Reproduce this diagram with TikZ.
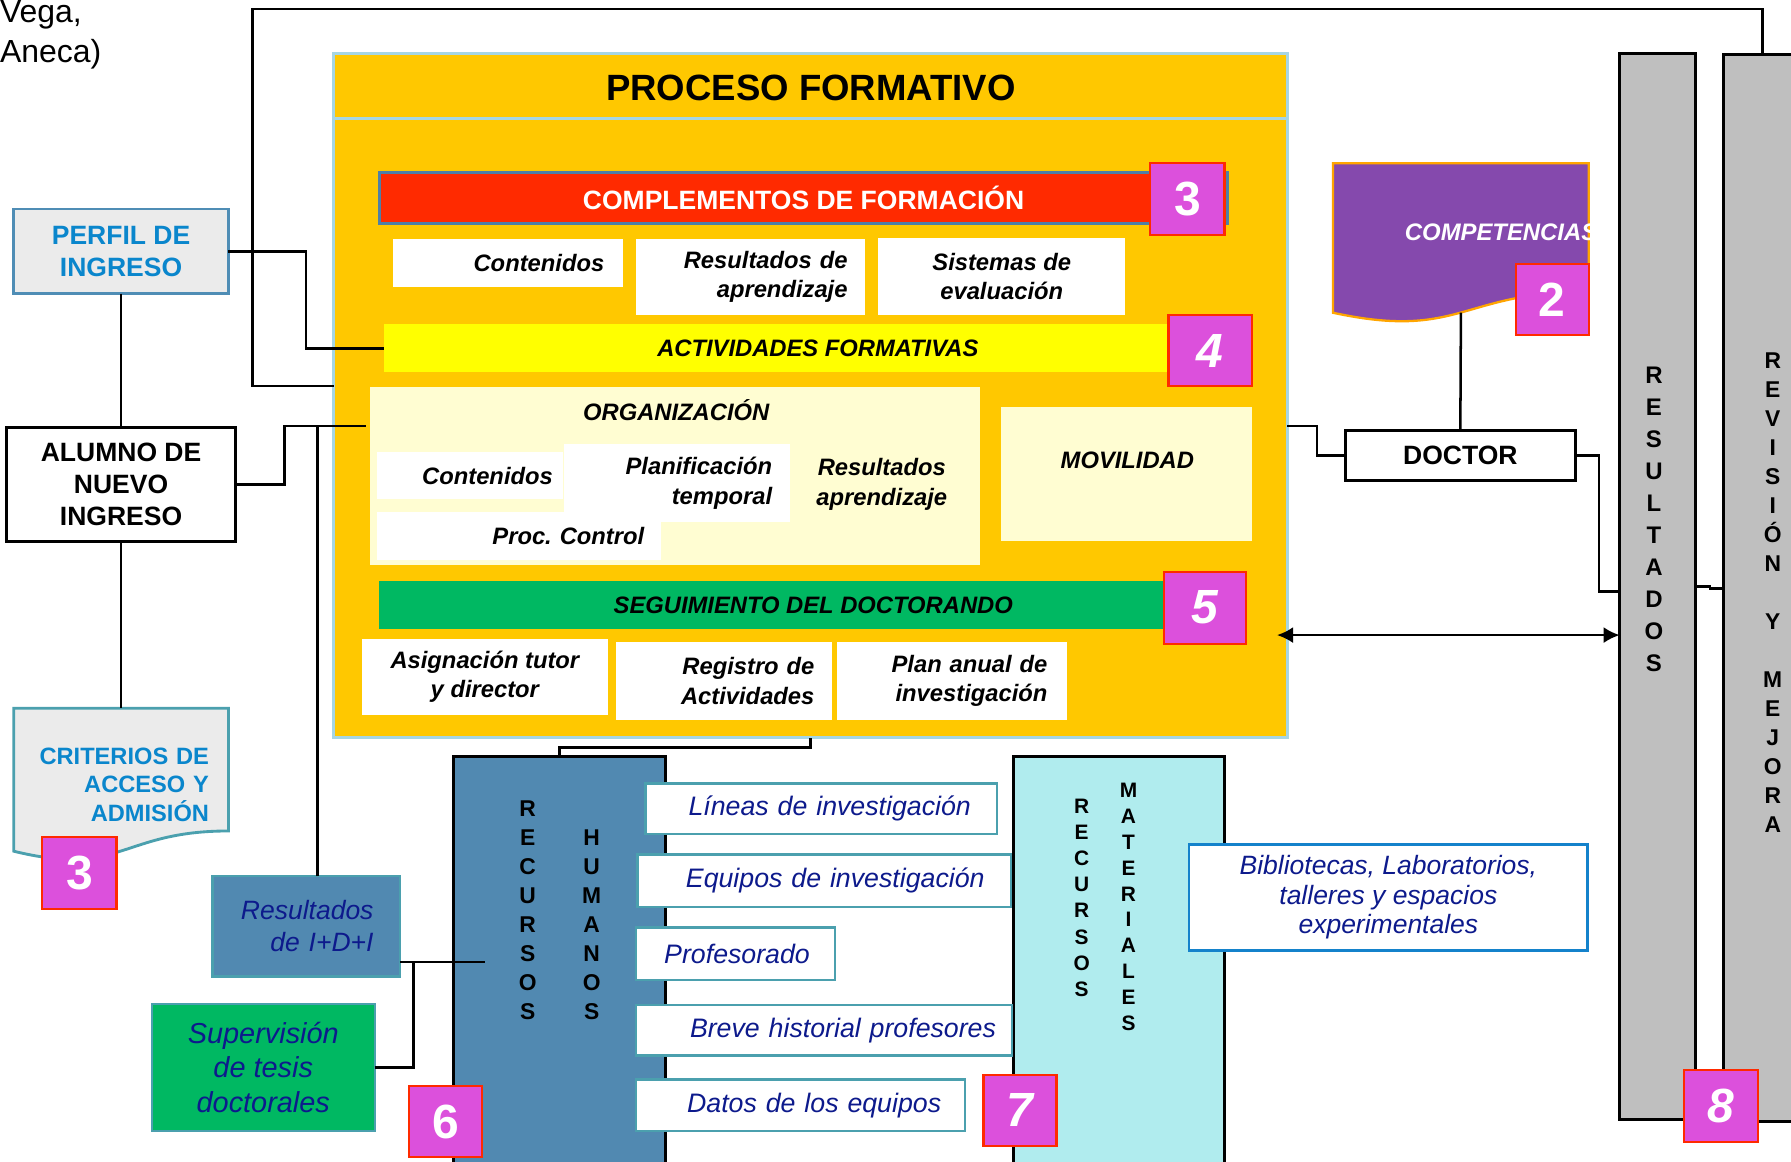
\documentclass[tikz,border=0pt]{standalone}
\usepackage{fontspec}
\setmainfont{Liberation Sans}
\usetikzlibrary{arrows.meta,backgrounds}

\definecolor{oro}{HTML}{FFC800}
\definecolor{celeste}{HTML}{A6D6E4}
\definecolor{rojo}{HTML}{FF2A00}
\definecolor{rosa}{HTML}{DC50DC}
\definecolor{amarillo}{HTML}{FFFF00}
\definecolor{crema}{HTML}{FFFDD2}
\definecolor{verde}{HTML}{00B862}
\definecolor{grisclaro}{HTML}{EBEBEB}
\definecolor{azulperfil}{HTML}{4F8DB5}
\definecolor{azultexto}{HTML}{0A86CC}
\definecolor{verdeazul}{HTML}{4BA0AE}
\definecolor{acero}{HTML}{5189B1}
\definecolor{marino}{HTML}{0D1A8C}
\definecolor{cian}{HTML}{B0ECEE}
\definecolor{azulbib}{HTML}{1482CB}
\definecolor{morado}{HTML}{8549AD}
\definecolor{naranja}{HTML}{FFA500}
\definecolor{gris}{HTML}{BFBFBF}
\definecolor{grisazul}{HTML}{4F7FA6}

\newcommand{\fsz}[2]{\fontsize{#1}{#2}\selectfont}

\tikzset{
  todo/.style={inner sep=0pt, outer sep=0pt},
  tam/.style 2 args={minimum width=#1pt, minimum height=#2pt},
  dcha/.style 2 args={text width=#1pt, inner xsep=#2pt, align=right},
  conn/.style={line width=2.2pt},
  num/.style={todo, fill=rosa, draw=rojo, line width=2pt, text=white, font=\bfseries\fsz{42}{42}},
  numi/.style={num, font=\bfseries\itshape\fsz{42}{42}},
  blanca/.style={todo, fill=white, font=\bfseries\itshape\fsz{20.8}{26}},
  barra/.style={todo, font=\bfseries\itshape\fsz{20.8}{26}},
  rhcaja/.style={todo, fill=white, draw=verdeazul, line width=2pt, text=marino, font=\itshape\fsz{23.4}{28}},
  columna/.style={todo, draw=black, line width=2.5pt},
  letras/.style={todo, align=center, font=\bfseries\fsz{20}{25.4}}
}

\begin{document}
\begin{tikzpicture}[x=1pt,y=-1pt]
  \useasboundingbox (0,0) rectangle (1568,1017);
  \clip (0,0) rectangle (1568,1017);

  % texto suelto
  \node[todo, anchor=north west, align=left, font=\fsz{28}{35}] (vega) at (0,0.5) {Vega,\\Aneca)};

  % proceso formativo
  \node[todo, tam={835}{599}, fill=oro, draw=celeste, line width=2.5pt] (proceso) at (709.5,346.5) {};
  \draw[celeste, line width=2.5pt] ([yshift=-57pt]proceso.north west) -- ([yshift=-57pt]proceso.north east);
  \node[todo, font=\bfseries\fsz{32}{38}] (titulo) at (710,77) {PROCESO FORMATIVO};

  \node[todo, tam={743}{45}, fill=rojo, draw=grisazul, line width=2.5pt, text=white, font=\bfseries\fsz{23.2}{28}] (complementos) at (703.5,173.5) {COMPLEMENTOS DE FORMACIÓN};
  \node[num, tam={65}{63}] (n3a) at (1039.5,174.5) {3};

  \node[blanca, tam={201}{42}, dcha={169}{16}] (contenidos) at (444.5,230) {Contenidos};
  \node[blanca, tam={200}{67}, dcha={170}{15}] (resultados) at (657,242.5) {Resultados de\\aprendizaje};
  \node[blanca, tam={216}{68}, align=center] (sistemas) at (877,242) {Sistemas de\\evaluación};

  \node[barra, tam={760}{42}, fill=amarillo] (actividades) at (716,305) {ACTIVIDADES FORMATIVAS};
  \node[numi, tam={73}{62}] (n4) at (1059.5,307) {4};

  \node[todo, tam={534}{156}, fill=crema] (organizacion) at (591,417) {};
  \node[barra, anchor=base] (orgtit) at (592,368.5) {ORGANIZACIÓN};
  \node[blanca, tam={249}{42}, dcha={219}{15}] (proc) at (454.5,469) {Proc.\ Control};
  \node[blanca, tam={163}{41}, dcha={145}{9}] (contorg) at (411.5,416.5) {Contenidos};
  \node[blanca, tam={198}{68}, dcha={166}{16}] (planif) at (593,423) {Planificación\\temporal};
  \node[barra, align=center] (resorg) at (772,424) {Resultados\\aprendizaje};

  \node[todo, tam={220}{118}, fill=crema] (movilidad) at (986,415) {};
  \node[barra] (movtxt) at (987,403) {MOVILIDAD};

  \node[barra, tam={760}{42}, fill=verde] (seguimiento) at (712,530) {SEGUIMIENTO DEL DOCTORANDO};
  \node[numi, tam={72}{63}] (n5) at (1055,532) {5};

  \node[blanca, tam={215}{67}, align=center] (asignacion) at (424.5,592.5) {Asignación tutor\\y director};
  \node[blanca, tam={189}{68}, dcha={159}{15}] (registro) at (633.5,596) {Registro de\\Actividades};
  \node[blanca, tam={201}{68}, dcha={167}{17}] (plananual) at (833.5,596) {Plan anual de\\investigación};

  % columna izquierda
  \node[todo, tam={188}{74}, fill=grisclaro, draw=azulperfil, line width=2.5pt, text=azultexto, font=\bfseries\fsz{23.2}{28}, align=center] (perfil) at (106,220) {PERFIL DE\\INGRESO};
  \node[todo, tam={200}{100}, fill=white, draw=black, line width=2.5pt, font=\bfseries\fsz{23.2}{28}, align=center] (alumno) at (106,424) {ALUMNO DE\\NUEVO\\INGRESO};
  \node[todo, tam={188}{134}, dcha={154}{17}, text=azultexto, font=\bfseries\fsz{20.7}{25}] (criterios) at (106,687) {CRITERIOS DE\\ACCESO Y\\ADMISIÓN};
  \begin{scope}[on background layer]
    \draw[fill=grisclaro, draw=verdeazul, line width=2.5pt] (criterios.north west) -- (criterios.north east) -- ([yshift=26.5pt]criterios.south east) .. controls ([yshift=26.5pt]criterios.south) and ([yshift=-14.3pt]criterios.south) .. ([yshift=8.8pt]criterios.south west) -- cycle;
  \end{scope}
  \node[num, tam={65}{63}] (n3b) at (69.5,764.5) {3};

  \node[todo, tam={164}{88}, dcha={118}{23}, fill=acero, draw=verdeazul, line width=2pt, text=marino, font=\itshape\fsz{23.2}{28}] (resid) at (268,811) {Resultados\\de I+D+I};
  \node[todo, tam={195}{111}, align=center, fill=verde, draw=verdeazul, line width=2pt, text=marino, font=\itshape\fsz{25.3}{30}] (superv) at (230.5,934.5) {Supervisión\\de tesis\\doctorales};

  % recursos
  \node[columna, tam={186}{368}, fill=acero] (rh) at (490,846) {};
  \node[letras] (recrh) at (462,797) {R\\E\\C\\U\\R\\S\\O\\S};
  \node[letras] (humrh) at (518,809.5) {H\\U\\M\\A\\N\\O\\S};
  \node[columna, tam={185}{368}, fill=cian] (rm) at (979.5,846) {};
  \node[letras, font=\bfseries\fsz{18.3}{22.9}] (recrm) at (947,786) {R\\E\\C\\U\\R\\S\\O\\S};
  \node[letras, font=\bfseries\fsz{18.3}{22.7}] (matrm) at (988,794) {M\\A\\T\\E\\R\\I\\A\\L\\E\\S};

  \node[rhcaja, tam={308}{44}, dcha={262}{23}] (lineas) at (719,708) {Líneas de investigación};
  \node[rhcaja, tam={327}{46}, dcha={281}{23}] (equipos) at (721.5,771) {Equipos de investigación};
  \node[rhcaja, tam={174}{46}, dcha={130}{22}] (profesorado) at (644,835) {Profesorado};
  \node[rhcaja, tam={329}{44}, dcha={301}{14}] (historial) at (721.5,902) {Breve historial profesores};
  \node[rhcaja, tam={288}{45}, dcha={246}{21}] (datos) at (701,967.5) {Datos de los equipos};
  \node[num, tam={64}{62}] (n6) at (390,982) {6};
  \node[numi, tam={64}{62}] (n7) at (893,972) {7};

  \node[todo, tam={349}{93}, align=center, fill=white, draw=azulbib, line width=2.5pt, text=marino, font=\itshape\fsz{23.2}{26}] (bibliotecas) at (1215.5,785.5) {Bibliotecas, Laboratorios,\\talleres y espacios\\experimentales};

  % columna derecha
  \node[todo, tam={224}{140}] (competencias) at (1279,213) {};
  \begin{scope}[on background layer]
    \draw[fill=morado, draw=naranja, line width=2pt] (competencias.north west) -- (competencias.north east) -- ([yshift=27.7pt]competencias.south east) .. controls ([yshift=27.7pt]competencias.south) and ([yshift=-15pt]competencias.south) .. ([yshift=9.2pt]competencias.south west) -- cycle;
  \end{scope}
  \begin{scope}
    \clip (competencias.north west) rectangle ([xshift=1pt]competencias.south east);
    \node[todo, anchor=west, text=white, font=\bfseries\itshape\fsz{20.9}{25}] (comptxt) at (1230,203) {COMPETENCIAS};
  \end{scope}
  \node[num, tam={64}{62}] (n2) at (1359,262) {2};

  \node[todo, tam={201}{44}, fill=white, draw=black, line width=2.5pt, font=\bfseries\fsz{23.2}{28}] (doctor) at (1278.5,399) {DOCTOR};

  \node[columna, tam={66}{933}, fill=gris] (resultadoscol) at (1451,513.5) {};
  \node[letras, font=\bfseries\fsz{21}{28}] (resletras) at (1448,455) {R\\E\\S\\U\\L\\T\\A\\D\\O\\S};
  \node[columna, tam={81}{934}, fill=gris] (revision) at (1549.5,515) {};
  \node[letras] (revletras) at (1552,519) {R\\E\\V\\I\\S\\I\\Ó\\N\\[25.4pt]Y\\[25.4pt]M\\E\\J\\O\\R\\A};
  \node[numi, tam={65}{63}] (n8) at (1506.5,968.5) {8};

  % conexiones
  \coordinate (esquina) at (221,8);
  \draw[conn] ([xshift=-6.5pt]revision.north) |- (esquina) |- ([yshift=8.5pt]proceso.west);
  \draw[conn] (perfil.east) -- ++(68,0) |- (actividades.west);
  \draw[conn] (perfil.south) -- (alumno.north);
  \draw[conn] (alumno.south) -- (criterios.north);
  \draw[conn] (alumno.east) -- ++(43,0) |- ([xshift=-4pt,yshift=44pt]organizacion.west);
  \draw[conn] ([xshift=10pt]resid.north) |- ([xshift=-4pt,yshift=44pt]organizacion.west);
  \draw[conn] (rh.north) -- ++(0,-7.5) -| (proceso.south);
  \draw[conn] ([yshift=-31pt]resid.east) -- ++(75,0);
  \draw[conn] (superv.east) -- ++(34,0) |- ([yshift=-31pt]resid.east);
  \draw[conn] ([yshift=9.4pt]competencias.south) -- (doctor.north);
  \draw[conn] ([yshift=-26.5pt]proceso.east) -- ++(26,0) |- (doctor.west);
  \draw[conn] (doctor.east) -- ++(21,0) |- ([yshift=-4.5pt]resultadoscol.west);
  \draw[conn] (resultadoscol.east) -- ++(13,0) |- (revision.west);
  \draw[conn, {Latex[length=14pt,width=14pt]}-{Latex[length=14pt,width=14pt]}] ([xshift=-9pt,yshift=-209.5pt]proceso.east) -- ([yshift=-42.5pt]resultadoscol.west);
\end{tikzpicture}
\end{document}
